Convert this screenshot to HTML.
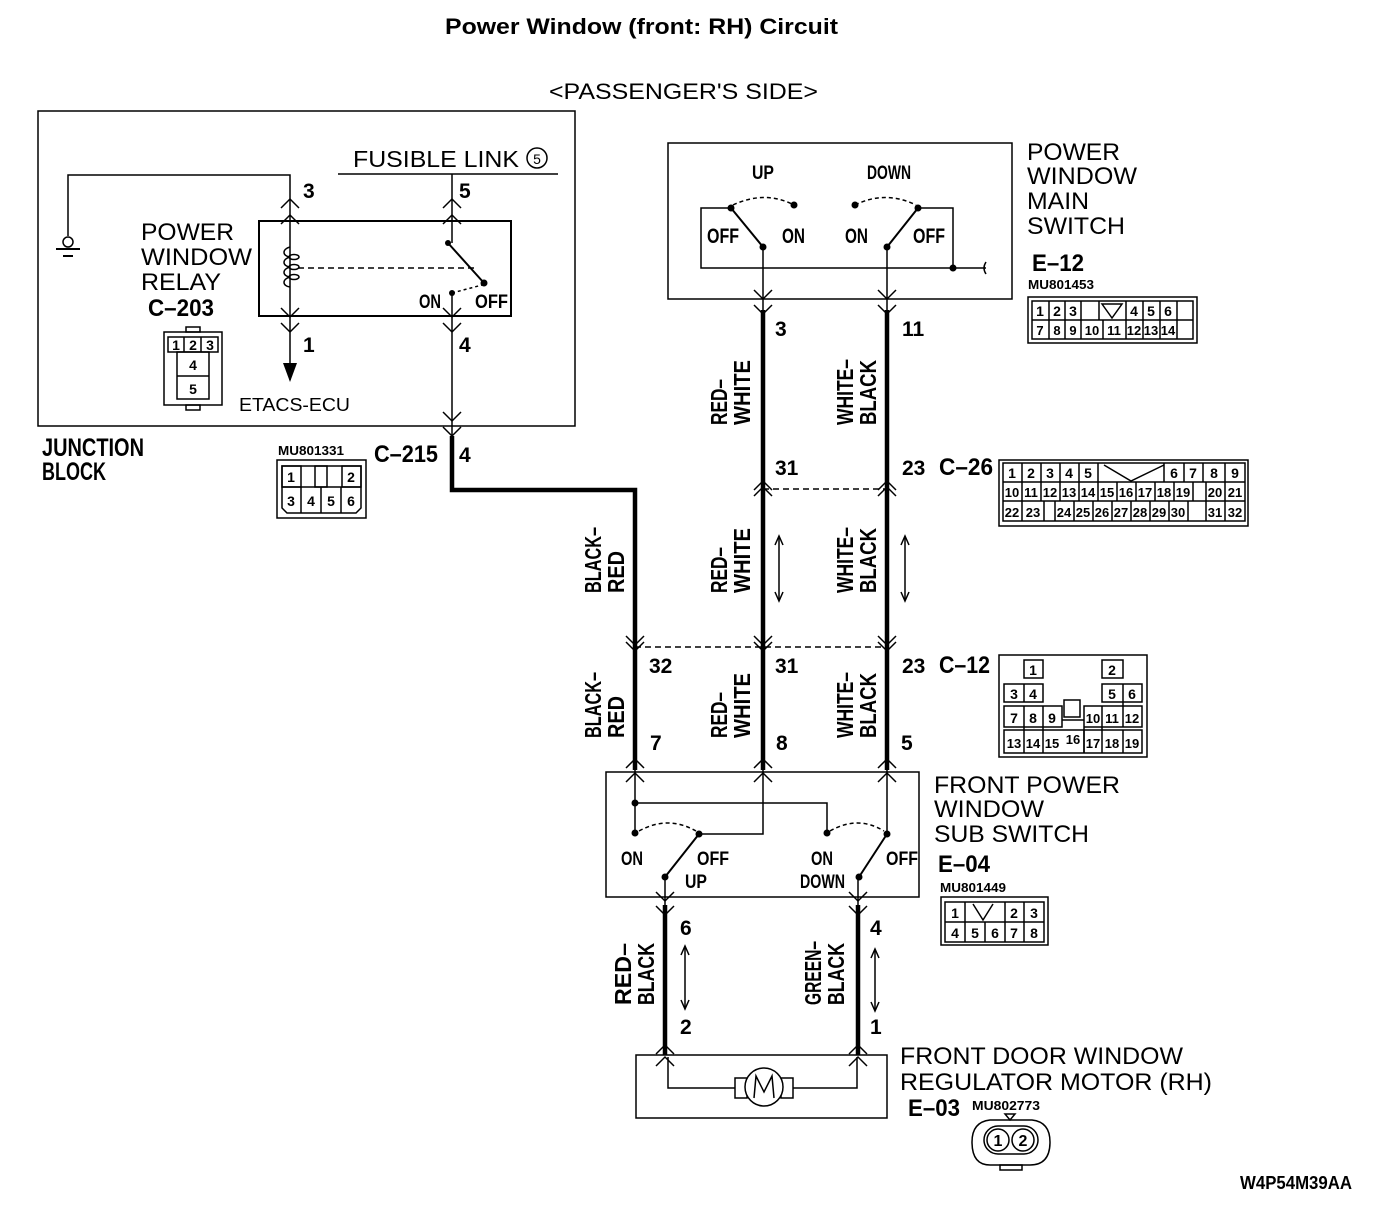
<!DOCTYPE html>
<html><head><meta charset="utf-8"><style>
html,body{margin:0;padding:0;background:#fff;}
svg{display:block;}
.t{font-family:"Liberation Sans",sans-serif;fill:#000;}
.n{font-family:"Liberation Sans",sans-serif;font-weight:bold;fill:#000;}
</style></head><body>
<svg width="1392" height="1232" viewBox="0 0 1392 1232" xmlns="http://www.w3.org/2000/svg">
<g fill="none" stroke="#000" stroke-width="1.5">
<rect x="38" y="111" width="537" height="315"/>
<line x1="338" y1="174" x2="558" y2="174"/>
<circle cx="537" cy="158" r="10"/>
<polyline points="68,236 68,175 290,175 290,380"/>
<circle cx="68" cy="242" r="5"/>
<line x1="56" y1="249" x2="80" y2="249" stroke-width="2"/>
<line x1="63" y1="256" x2="73" y2="256" stroke-width="2"/>
<rect x="259" y="221" width="252" height="95" stroke-width="2"/>
<line x1="452" y1="174" x2="452" y2="243"/>
<line x1="452" y1="293" x2="452" y2="436"/>
<path d="M281,208 L290,199 L299,208 M281,224 L290,215 L299,224 M443,208 L452,199 L461,208 M443,224 L452,215 L461,224"/>
<path d="M281,308 L290,317 L299,308 M281,323 L290,332 L299,323 M443,308 L452,317 L461,308 M443,323 L452,332 L461,323 M443,412 L452,421 L461,412 M443,427 L452,436 L461,427"/>
<path d="M290,247 c-8,2 -8,9 0,10 c-8,2 -8,9 0,10 c-8,2 -8,9 0,10 c-8,2 -8,9 0,10" fill="none"/>
<ellipse cx="294" cy="257" rx="5" ry="2.5"/><ellipse cx="294" cy="267" rx="5" ry="2.5"/><ellipse cx="294" cy="277" rx="5" ry="2.5"/>
<line x1="298" y1="268" x2="476" y2="268" stroke-dasharray="6,4"/>
<line x1="448" y1="243" x2="484" y2="283" stroke-width="2"/>
<path d="M452,293 L482,285" stroke-dasharray="3,3"/>
<rect x="164" y="332" width="58" height="73"/>
<rect x="186" y="327" width="14" height="5"/><rect x="186" y="405" width="14" height="5"/>
<rect x="168" y="337" width="50" height="15"/>
<line x1="184" y1="337" x2="184" y2="352"/><line x1="201" y1="337" x2="201" y2="352"/>
<rect x="177" y="352" width="32" height="47"/><line x1="177" y1="376" x2="209" y2="376"/>
<path d="M277,460 H366 V518 H277 Z"/>
<path d="M282,466 H361 V508 L356,513 H287 L282,508 Z"/>
<line x1="282" y1="487" x2="361" y2="487"/>
<rect x="282" y="466" width="19" height="21"/><rect x="315" y="466" width="12" height="21"/><rect x="342" y="466" width="19" height="21"/>
<line x1="301" y1="487" x2="301" y2="513"/><line x1="321" y1="487" x2="321" y2="513"/><line x1="341" y1="487" x2="341" y2="513"/>
<rect x="668" y="143" width="344" height="156"/>
<polyline points="731,208 701,208 701,268 986,268"/>
<polyline points="918,208 953,208 953,268"/>
<path d="M986,262 q-4,6 0,12"/>
<line x1="731" y1="208" x2="763" y2="247" stroke-width="2"/>
<line x1="887" y1="247" x2="918" y2="208" stroke-width="2"/>
<path d="M733,205 Q765,190 794,205" stroke-dasharray="4,3"/>
<path d="M855,205 Q885,190 916,205" stroke-dasharray="4,3"/>
<line x1="763" y1="247" x2="763" y2="310"/>
<line x1="887" y1="247" x2="887" y2="310"/>
<path d="M754,290 L763,299 L772,290 M754,305 L763,314 L772,305 M878,290 L887,299 L896,290 M878,305 L887,314 L896,305"/>
<path d="M754,490 L763,481 L772,490 M754,496 L763,487 L772,496 M878,490 L887,481 L896,490 M878,496 L887,487 L896,496"/>
<line x1="763" y1="489" x2="887" y2="489" stroke-dasharray="6,4"/>
<line x1="779" y1="537" x2="779" y2="600"/><path d="M775,545 L779,536 L783,545 M775,592 L779,601 L783,592"/>
<line x1="905" y1="537" x2="905" y2="600"/><path d="M901,545 L905,536 L909,545 M901,592 L905,601 L909,592"/>
<path d="M626,642 L635,651 L644,642 M626,636 L635,645 L644,636 M754,642 L763,651 L772,642 M754,636 L763,645 L772,636 M878,642 L887,651 L896,642 M878,636 L887,645 L896,636"/>
<line x1="635" y1="647" x2="887" y2="647" stroke-dasharray="6,4"/>
<rect x="606" y="772" width="313" height="125"/>
<path d="M626,768 L635,759 L644,768 M626,782 L635,773 L644,782 M754,768 L763,759 L772,768 M754,782 L763,773 L772,782 M878,768 L887,759 L896,768 M878,782 L887,773 L896,782"/>
<polyline points="635,770 635,833"/>
<polyline points="635,803 827,803 827,833"/>
<polyline points="699,834 763,834 763,770"/>
<line x1="887" y1="770" x2="887" y2="834"/>
<line x1="699" y1="834" x2="665" y2="877" stroke-width="2"/>
<line x1="887" y1="834" x2="859" y2="877" stroke-width="2"/>
<path d="M639,831 Q668,815 696,831" stroke-dasharray="4,3"/>
<path d="M830,831 Q858,815 884,831" stroke-dasharray="4,3"/>
<line x1="665" y1="877" x2="665" y2="905"/><line x1="858" y1="877" x2="858" y2="905"/>
<path d="M656,892 L665,901 L674,892 M656,906 L665,915 L674,906 M849,892 L858,901 L867,892 M849,906 L858,915 L867,906"/>
<line x1="685" y1="947" x2="685" y2="1008"/><path d="M681,955 L685,946 L689,955 M681,1000 L685,1009 L689,1000"/>
<line x1="875" y1="950" x2="875" y2="1010"/><path d="M871,958 L875,949 L879,958 M871,1002 L875,1011 L879,1002"/>
<rect x="636" y="1055" width="251" height="63"/>
<path d="M656,1054 L665,1045 L674,1054 M656,1066 L665,1057 L674,1066 M849,1054 L858,1045 L867,1054 M849,1066 L858,1057 L867,1066"/>
<polyline points="668,1057 668,1088 735,1088"/>
<polyline points="857,1057 857,1088 793,1088"/>
<rect x="735" y="1078" width="12" height="20"/><rect x="781" y="1078" width="12" height="20"/>
<circle cx="764" cy="1087" r="19" fill="#fff"/>
<path d="M754,1098 L756,1076 L764,1092 L772,1076 L774,1098"/>
<path d="M990,1120 H1032 Q1050,1122 1050,1142 Q1050,1165 1030,1165 H990 Q972,1165 972,1142 Q972,1122 990,1120 Z"/>
<rect x="984" y="1126" width="54" height="28" rx="14"/>
<circle cx="998" cy="1140" r="11"/><circle cx="1023" cy="1140" r="11"/>
<path d="M1005,1114 L1015,1114 L1010,1120 Z"/>
<rect x="1000" y="1165" width="22" height="5"/>
<rect x="1028" y="297" width="169" height="46"/>
<rect x="1032" y="301" width="161" height="38"/>
<line x1="1032" y1="320" x2="1193" y2="320"/>
<path d="M1049,301V339 M1065,301V339 M1081,301V339 M1099,301V320 M1126,301V339 M1143,301V339 M1160,301V339 M1177,301V339 M1103,320V339"/>
<path d="M1102,304 L1112,318 L1122,304 Z"/>
<rect x="999" y="460" width="249" height="66"/>
<rect x="1003" y="463" width="242" height="58"/>
<path d="M1003,482H1245 M1003,501H1245 M1022,463V521 M1041,463V482 M1060,463V482 M1079,463V482 M1098,463V482 M1164,463V482 M1184,463V482 M1203,463V482 M1225,463V521 M1041,482V501 M1060,482V501 M1079,482V501 M1098,482V501 M1117,482V501 M1136,482V501 M1155,482V501 M1174,482V501 M1193,482V501 M1206,482V501 M1044,501V521 M1055,501V521 M1074,501V521 M1093,501V521 M1112,501V521 M1131,501V521 M1150,501V521 M1169,501V521 M1188,501V521 M1206,501V521"/>
<path d="M1104,465 L1131,481 L1164,465"/>
<rect x="999" y="655" width="148" height="102"/>
<path d="M1024,660H1043V678H1024Z M1102,660H1123V678H1102Z M1004,684H1043V702H1004Z M1102,684H1142V702H1102Z M1004,706H1062V727H1004Z M1084,706H1142V727H1084Z M1004,730H1142V753H1004Z M1064,700H1080V717H1064Z M1062,720H1084V753"/>
<path d="M1024,684V702 M1024,706V753 M1043,706V753 M1123,684V727 M1102,706V753 M1084,730V753 M1123,730V753 M1043,730V753"/>
<rect x="941" y="897" width="107" height="48"/>
<rect x="945" y="902" width="99" height="40"/>
<path d="M945,922H1044 M965,902V942 M1005,902V942 M1024,902V942 M985,922V942"/>
<path d="M973,904 L983,920 L993,904"/>
</g>
<g fill="#000">
<path d="M283,363 L297,363 L290,382 Z"/>
<circle cx="448" cy="243" r="3"/><circle cx="484" cy="283" r="3.5"/><circle cx="452" cy="293" r="3"/>
<circle cx="731" cy="208" r="3.5"/><circle cx="794" cy="205" r="3.5"/><circle cx="763" cy="247" r="3.5"/>
<circle cx="855" cy="205" r="3.5"/><circle cx="918" cy="208" r="3.5"/><circle cx="887" cy="247" r="3.5"/><circle cx="953" cy="268" r="3.5"/>
<circle cx="635" cy="803" r="3.5"/><circle cx="635" cy="833" r="3.5"/><circle cx="699" cy="834" r="3.5"/><circle cx="665" cy="877" r="3.5"/>
<circle cx="827" cy="833" r="3.5"/><circle cx="887" cy="834" r="3.5"/><circle cx="859" cy="877" r="3.5"/>
</g>
<g fill="none" stroke="#000" stroke-width="4.5">
<polyline points="452,436 452,490 635,490 635,770"/>
<line x1="763" y1="310" x2="763" y2="770"/>
<line x1="887" y1="310" x2="887" y2="770"/>
<line x1="665" y1="905" x2="665" y2="1055"/>
<line x1="858" y1="905" x2="858" y2="1055"/>
</g>
<text class="t" x="445" y="34" font-size="22" font-weight="bold" textLength="393" lengthAdjust="spacingAndGlyphs">Power Window (front: RH) Circuit</text>
<text class="t" x="549" y="99" font-size="22" textLength="269" lengthAdjust="spacingAndGlyphs">&lt;PASSENGER'S SIDE&gt;</text>
<text class="t" x="353" y="167" font-size="23" textLength="166" lengthAdjust="spacingAndGlyphs">FUSIBLE LINK</text>
<text class="t" x="537" y="164" font-size="14" text-anchor="middle">5</text>
<g class="t" font-size="24">
<text x="141" y="240" textLength="93" lengthAdjust="spacingAndGlyphs">POWER</text>
<text x="141" y="265" textLength="111" lengthAdjust="spacingAndGlyphs">WINDOW</text>
<text x="141" y="290" textLength="80" lengthAdjust="spacingAndGlyphs">RELAY</text>
<text x="1027" y="160" textLength="93" lengthAdjust="spacingAndGlyphs">POWER</text>
<text x="1027" y="184" textLength="110" lengthAdjust="spacingAndGlyphs">WINDOW</text>
<text x="1027" y="209" textLength="62" lengthAdjust="spacingAndGlyphs">MAIN</text>
<text x="1027" y="234" textLength="98" lengthAdjust="spacingAndGlyphs">SWITCH</text>
<text x="934" y="793" textLength="186" lengthAdjust="spacingAndGlyphs">FRONT POWER</text>
<text x="934" y="817" textLength="110" lengthAdjust="spacingAndGlyphs">WINDOW</text>
<text x="934" y="842" textLength="155" lengthAdjust="spacingAndGlyphs">SUB SWITCH</text>
<text x="900" y="1064" textLength="283" lengthAdjust="spacingAndGlyphs">FRONT DOOR WINDOW</text>
<text x="900" y="1090" textLength="312" lengthAdjust="spacingAndGlyphs">REGULATOR MOTOR (RH)</text>
</g>
<text class="t" x="239" y="411" font-size="18" textLength="111" lengthAdjust="spacingAndGlyphs">ETACS-ECU</text>
<g class="n" font-size="21">
<text x="148" y="316" font-size="24" textLength="66" lengthAdjust="spacingAndGlyphs">C–203</text>
<text x="303" y="198">3</text><text x="459" y="198">5</text><text x="303" y="352">1</text><text x="459" y="352">4</text>
<text x="419" y="308" font-size="19" textLength="22" lengthAdjust="spacingAndGlyphs">ON</text><text x="475" y="308" font-size="19" textLength="33" lengthAdjust="spacingAndGlyphs">OFF</text>
<text x="42" y="456" font-size="25" textLength="102" lengthAdjust="spacingAndGlyphs">JUNCTION</text><text x="42" y="480" font-size="25" textLength="64" lengthAdjust="spacingAndGlyphs">BLOCK</text>
<text x="374" y="462" font-size="24" textLength="64" lengthAdjust="spacingAndGlyphs">C–215</text><text x="459" y="462">4</text>
<text x="278" y="455" font-size="13" textLength="66" lengthAdjust="spacingAndGlyphs">MU801331</text>
<text x="752" y="179" font-size="19" textLength="22" lengthAdjust="spacingAndGlyphs">UP</text><text x="867" y="179" font-size="19" textLength="44" lengthAdjust="spacingAndGlyphs">DOWN</text>
<text x="707" y="243" textLength="32" lengthAdjust="spacingAndGlyphs">OFF</text><text x="782" y="243" textLength="23" lengthAdjust="spacingAndGlyphs">ON</text>
<text x="845" y="243" textLength="23" lengthAdjust="spacingAndGlyphs">ON</text><text x="913" y="243" textLength="32" lengthAdjust="spacingAndGlyphs">OFF</text>
<text x="775" y="336">3</text><text x="902" y="336">11</text>
<text x="1032" y="271" font-size="24" textLength="52" lengthAdjust="spacingAndGlyphs">E–12</text><text x="1028" y="289" font-size="13" textLength="66" lengthAdjust="spacingAndGlyphs">MU801453</text>
<text x="775" y="475">31</text><text x="902" y="475">23</text><text x="939" y="475" font-size="24" textLength="54" lengthAdjust="spacingAndGlyphs">C–26</text>
<text x="649" y="673">32</text><text x="775" y="673">31</text><text x="902" y="673">23</text><text x="939" y="673" font-size="24" textLength="51" lengthAdjust="spacingAndGlyphs">C–12</text>
<text x="650" y="750">7</text><text x="776" y="750">8</text><text x="901" y="750">5</text>
<text x="621" y="865" font-size="19" textLength="22" lengthAdjust="spacingAndGlyphs">ON</text><text x="697" y="865" font-size="19" textLength="32" lengthAdjust="spacingAndGlyphs">OFF</text><text x="685" y="888" font-size="19" textLength="22" lengthAdjust="spacingAndGlyphs">UP</text>
<text x="811" y="865" font-size="19" textLength="22" lengthAdjust="spacingAndGlyphs">ON</text><text x="800" y="888" font-size="19" textLength="45" lengthAdjust="spacingAndGlyphs">DOWN</text><text x="886" y="865" font-size="19" textLength="32" lengthAdjust="spacingAndGlyphs">OFF</text>
<text x="938" y="872" font-size="24" textLength="52" lengthAdjust="spacingAndGlyphs">E–04</text><text x="940" y="892" font-size="13" textLength="66" lengthAdjust="spacingAndGlyphs">MU801449</text>
<text x="680" y="935">6</text><text x="870" y="935">4</text><text x="680" y="1034">2</text><text x="870" y="1034">1</text>
<text x="908" y="1116" font-size="24" textLength="52" lengthAdjust="spacingAndGlyphs">E–03</text><text x="972" y="1110" font-size="13" textLength="68" lengthAdjust="spacingAndGlyphs">MU802773</text>
<text x="1240" y="1189" font-size="18" textLength="112" lengthAdjust="spacingAndGlyphs">W4P54M39AA</text>
</g>
<g class="n" font-size="14" text-anchor="middle">
<text x="176" y="350">1</text><text x="193" y="350">2</text><text x="210" y="350">3</text><text x="193" y="370">4</text><text x="193" y="394">5</text>
<text x="291" y="482">1</text><text x="351" y="482">2</text><text x="291" y="506">3</text><text x="311" y="506">4</text><text x="331" y="506">5</text><text x="351" y="506">6</text>
<text x="1040" y="316">1</text><text x="1057" y="316">2</text><text x="1073" y="316">3</text><text x="1134" y="316">4</text><text x="1151" y="316">5</text><text x="1168" y="316">6</text>
<g font-size="13"><text x="1040" y="335">7</text><text x="1057" y="335">8</text><text x="1073" y="335">9</text><text x="1092" y="335">10</text><text x="1114" y="335">11</text><text x="1134" y="335">12</text><text x="1151" y="335">13</text><text x="1168" y="335">14</text>
<text x="1012" y="497">10</text><text x="1031" y="497">11</text><text x="1050" y="497">12</text><text x="1069" y="497">13</text><text x="1088" y="497">14</text><text x="1107" y="497">15</text><text x="1126" y="497">16</text><text x="1145" y="497">17</text><text x="1164" y="497">18</text><text x="1183" y="497">19</text><text x="1215" y="497">20</text><text x="1235" y="497">21</text>
<text x="1012" y="517">22</text><text x="1033" y="517">23</text><text x="1064" y="517">24</text><text x="1083" y="517">25</text><text x="1102" y="517">26</text><text x="1121" y="517">27</text><text x="1140" y="517">28</text><text x="1159" y="517">29</text><text x="1178" y="517">30</text><text x="1215" y="517">31</text><text x="1235" y="517">32</text>
<text x="1014" y="748">13</text><text x="1033" y="748">14</text><text x="1052" y="748">15</text><text x="1073" y="744">16</text><text x="1093" y="748">17</text><text x="1112" y="748">18</text><text x="1132" y="748">19</text>
<text x="1093" y="723">10</text><text x="1112" y="723">11</text><text x="1132" y="723">12</text></g>
<text x="1012" y="478">1</text><text x="1031" y="478">2</text><text x="1050" y="478">3</text><text x="1069" y="478">4</text><text x="1088" y="478">5</text><text x="1174" y="478">6</text><text x="1193" y="478">7</text><text x="1214" y="478">8</text><text x="1235" y="478">9</text>
<text x="1033" y="675">1</text><text x="1112" y="675">2</text><text x="1014" y="699">3</text><text x="1033" y="699">4</text><text x="1112" y="699">5</text><text x="1132" y="699">6</text>
<text x="1014" y="723">7</text><text x="1033" y="723">8</text><text x="1052" y="723">9</text>
<text x="955" y="918">1</text><text x="1014" y="918">2</text><text x="1034" y="918">3</text>
<text x="955" y="938">4</text><text x="975" y="938">5</text><text x="995" y="938">6</text><text x="1014" y="938">7</text><text x="1034" y="938">8</text>
<text x="998" y="1146" font-size="16">1</text><text x="1023" y="1146" font-size="16">2</text>
</g>
<g class="n" font-size="23">
<g transform="translate(727,425) rotate(-90)"><text x="0" y="0" textLength="46" lengthAdjust="spacingAndGlyphs">RED–</text><text x="0" y="23" textLength="65" lengthAdjust="spacingAndGlyphs">WHITE</text></g>
<g transform="translate(853,425) rotate(-90)"><text x="0" y="0" textLength="66" lengthAdjust="spacingAndGlyphs">WHITE–</text><text x="0" y="23" textLength="65" lengthAdjust="spacingAndGlyphs">BLACK</text></g>
<g transform="translate(601,593) rotate(-90)"><text x="0" y="0" textLength="66" lengthAdjust="spacingAndGlyphs">BLACK–</text><text x="0" y="23" textLength="42" lengthAdjust="spacingAndGlyphs">RED</text></g>
<g transform="translate(727,593) rotate(-90)"><text x="0" y="0" textLength="46" lengthAdjust="spacingAndGlyphs">RED–</text><text x="0" y="23" textLength="65" lengthAdjust="spacingAndGlyphs">WHITE</text></g>
<g transform="translate(853,593) rotate(-90)"><text x="0" y="0" textLength="66" lengthAdjust="spacingAndGlyphs">WHITE–</text><text x="0" y="23" textLength="65" lengthAdjust="spacingAndGlyphs">BLACK</text></g>
<g transform="translate(601,738) rotate(-90)"><text x="0" y="0" textLength="66" lengthAdjust="spacingAndGlyphs">BLACK–</text><text x="0" y="23" textLength="42" lengthAdjust="spacingAndGlyphs">RED</text></g>
<g transform="translate(727,738) rotate(-90)"><text x="0" y="0" textLength="46" lengthAdjust="spacingAndGlyphs">RED–</text><text x="0" y="23" textLength="65" lengthAdjust="spacingAndGlyphs">WHITE</text></g>
<g transform="translate(853,738) rotate(-90)"><text x="0" y="0" textLength="66" lengthAdjust="spacingAndGlyphs">WHITE–</text><text x="0" y="23" textLength="65" lengthAdjust="spacingAndGlyphs">BLACK</text></g>
<g transform="translate(631,1005) rotate(-90)"><text x="0" y="0" textLength="62" lengthAdjust="spacingAndGlyphs">RED–</text><text x="0" y="23" textLength="62" lengthAdjust="spacingAndGlyphs">BLACK</text></g>
<g transform="translate(821,1005) rotate(-90)"><text x="0" y="0" textLength="64" lengthAdjust="spacingAndGlyphs">GREEN–</text><text x="0" y="23" textLength="62" lengthAdjust="spacingAndGlyphs">BLACK</text></g>
</g>
</svg>
</body></html>
